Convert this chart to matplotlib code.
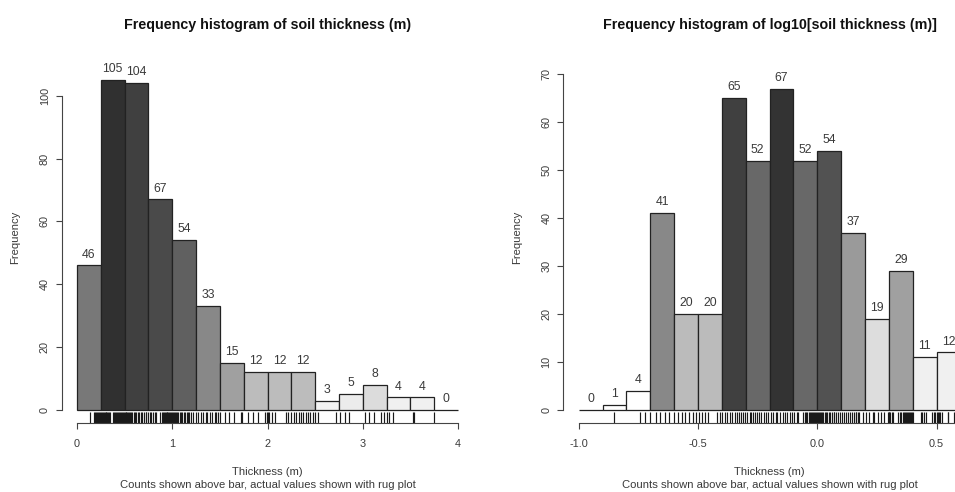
import matplotlib
matplotlib.use('Agg')
import matplotlib.pyplot as plt
import numpy as np

plt.rcParams['font.family'] = ['Liberation Sans', 'DejaVu Sans']

# histogram of thickness, 0.25 m classes
thick_edges = [0.0, 0.25, 0.5, 0.75, 1.0, 1.25, 1.5, 1.75, 2.0,
               2.25, 2.5, 2.75, 3.0, 3.25, 3.5, 3.75, 4.0]
thick_counts = [46, 105, 104, 67, 54, 33, 15, 12, 12, 12, 3, 5, 8, 4, 4, 0]
thick_grey = [120, 48, 64, 74, 96, 136, 160, 188, 188, 188, 242, 236, 220, 240, 240, 255]

# histogram of log10 thickness, 0.1 classes
log_edges = [-1.0, -0.9, -0.8, -0.7, -0.6, -0.5, -0.4, -0.3, -0.2,
             -0.1, 0.0, 0.1, 0.2, 0.3, 0.4, 0.5, 0.6]
log_counts = [0, 1, 4, 41, 20, 20, 65, 52, 67, 52, 54, 37, 19, 29, 11, 12]
log_grey = [255, 255, 255, 136, 187, 187, 64, 104, 51, 104, 82, 154, 221, 160, 240, 240]

# distinct measured thickness values (m) for the rug
thickness = [0.14, 0.18, 0.19, 0.20, 0.21, 0.22, 0.23, 0.24, 0.25, 0.26,
             0.27, 0.28, 0.29, 0.30, 0.31, 0.32, 0.33, 0.34, 0.35, 0.38,
             0.39, 0.40, 0.41, 0.42, 0.43, 0.44, 0.45, 0.46, 0.47, 0.48,
             0.49, 0.50, 0.51, 0.52, 0.53, 0.54, 0.55, 0.56, 0.57, 0.58,
             0.60, 0.61, 0.62, 0.64, 0.65, 0.67, 0.68, 0.70, 0.72, 0.73,
             0.75, 0.77, 0.78, 0.80, 0.82, 0.83, 0.87, 0.89, 0.90, 0.91,
             0.92, 0.93, 0.94, 0.95, 0.96, 0.97, 0.98, 0.99, 1.00, 1.01,
             1.02, 1.03, 1.04, 1.05, 1.06, 1.08, 1.09, 1.10, 1.12, 1.13,
             1.15, 1.17, 1.18, 1.20, 1.22, 1.25, 1.27, 1.30, 1.32, 1.35,
             1.37, 1.40, 1.42, 1.45, 1.46, 1.48, 1.50, 1.55, 1.60, 1.65,
             1.72, 1.73, 1.80, 1.85, 1.90, 1.97, 1.99, 2.00, 2.02, 2.05,
             2.08, 2.19, 2.22, 2.25, 2.28, 2.30, 2.33, 2.35, 2.37, 2.40,
             2.42, 2.45, 2.48, 2.50, 2.53, 2.72, 2.76, 2.81, 2.86, 3.02,
             3.07, 3.12, 3.19, 3.22, 3.25, 3.28, 3.32, 3.53, 3.54, 3.75]

txt = '#3a3a3a'


def rhist(ax, edges, counts, greys, rug, xticks, xticklabels, yticks, xaxis_end):
    edges = np.array(edges)
    lefts = edges[:-1]
    widths = np.diff(edges)
    cols = [(g / 255.0,) * 3 for g in greys]
    ax.bar(lefts, counts, width=widths, align='edge', color=cols,
           edgecolor='#222222', linewidth=0.9)
    for x, w, c in zip(lefts, widths, counts):
        ax.annotate(str(c), (x + w / 2, c), xytext=(0, 3.5), textcoords='offset points',
                    ha='center', va='bottom', fontsize=8.8, color=txt)
    # rug along the bottom edge of the plot region
    ax.vlines(rug, 0, 0.032, transform=ax.get_xaxis_transform(),
              color='#1a1a1a', linewidth=0.85)
    for s in ['top', 'right']:
        ax.spines[s].set_visible(False)
    ax.spines['left'].set_bounds(yticks[0], yticks[-1])
    ax.spines['bottom'].set_bounds(xticks[0], xaxis_end)
    for s in ['left', 'bottom']:
        ax.spines[s].set_color('#444444')
        ax.spines[s].set_linewidth(0.8)
    ax.set_xticks(xticks)
    ax.set_xticklabels(xticklabels)
    ax.set_yticks(yticks)
    ax.tick_params(length=4.5, width=0.8, color='#444444', labelsize=7.8,
                   labelcolor=txt)
    ax.tick_params(axis='x', pad=7)
    ax.tick_params(axis='y', pad=4)
    for lab in ax.get_yticklabels():
        lab.set_rotation(90)
        lab.set_va('center')
    ax.set_facecolor('none')


fig = plt.figure(figsize=(9.55, 4.92), dpi=100)
W, H = 955.0, 492.0

ax1 = fig.add_axes([61.7 / W, 1 - 423.2 / H, 411.6 / W, 356.4 / H])
rhist(ax1, thick_edges, thick_counts, thick_grey, thickness,
      [0, 1, 2, 3, 4], ['0', '1', '2', '3', '4'], [0, 20, 40, 60, 80, 100], 4)
ax1.set_xlim(-0.16, 4.16)
ax1.set_ylim(-4.2, 109.2)

ax2 = fig.add_axes([563.4 / W, 1 - 423.4 / H, 412.3 / W, 362.6 / H])
rhist(ax2, log_edges, log_counts, log_grey, np.log10(thickness),
      [-1.0, -0.5, 0.0, 0.5], ['-1.0', '-0.5', '0.0', '0.5'],
      [0, 10, 20, 30, 40, 50, 60, 70], 0.664)
ax2.set_xlim(-1.064, 0.664)
ax2.set_ylim(-2.8, 72.8)

titles = ['Frequency histogram of soil thickness (m)',
          'Frequency histogram of log10[soil thickness (m)]']
for cx, fy, t in [(267.5, 15.0, titles[0]), (769.5, 516.7, titles[1])]:
    fig.text(cx / W, 1 - 25 / H, t, ha='center', va='center',
             fontsize=10.3, fontweight='bold', color='#111111')
    fig.text(cx / W, 1 - 472 / H, 'Thickness (m)', ha='center', va='center',
             fontsize=8.1, color=txt)
    fig.text(cx / W, 1 - 485.5 / H,
             'Counts shown above bar, actual values shown with rug plot',
             ha='center', va='center', fontsize=8.1, color=txt)
    fig.text(fy / W, 1 - 237 / H, 'Frequency', ha='center', va='center',
             rotation=90, fontsize=8.1, color=txt)

fig.savefig('out.png', dpi=100)
